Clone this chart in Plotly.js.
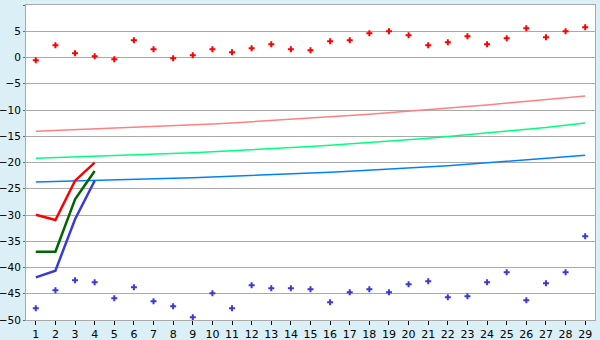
<!DOCTYPE html>
<html>
<head>
<meta charset="utf-8">
<script src="https://cdn.plot.ly/plotly-3.0.1.min.js"></script>
<style>html,body{margin:0;padding:0;background:#daeff6;}#chart{width:600px;height:340px;}</style>
</head>
<body>
<div id="chart"></div>
<script>
const days = [1,2,3,4,5,6,7,8,9,10,11,12,13,14,15,16,17,18,19,20,21,22,23,24,25,26,27,28,29];
const upperPoints = [-0.53,2.32,0.8,0.22,-0.35,3.27,1.56,-0.16,0.42,1.56,0.99,1.75,2.51,1.56,1.37,3.09,3.27,4.61,4.99,4.23,2.32,2.9,4.04,2.51,3.66,5.56,3.85,4.99,5.75];
const lowerPoints = [-47.78,-44.35,-42.44,-42.82,-45.87,-43.77,-46.44,-47.39,-49.49,-44.92,-47.78,-43.39,-43.96,-43.96,-44.15,-46.63,-44.72,-44.15,-44.72,-43.2,-42.63,-45.68,-45.49,-42.82,-40.91,-46.25,-43.01,-40.91,-34.06];
const pinkTrend = [-14.06,-13.92,-13.78,-13.63,-13.49,-13.35,-13.2,-13.03,-12.85,-12.66,-12.46,-12.25,-12.03,-11.8,-11.57,-11.32,-11.06,-10.8,-10.53,-10.25,-9.96,-9.66,-9.35,-9.03,-8.71,-8.37,-8.03,-7.68,-7.33];
const greenTrend = [-19.2,-19.08,-18.96,-18.84,-18.71,-18.58,-18.44,-18.29,-18.13,-17.96,-17.78,-17.59,-17.39,-17.18,-16.96,-16.72,-16.47,-16.21,-15.94,-15.66,-15.36,-15.05,-14.73,-14.4,-14.06,-13.71,-13.34,-12.92,-12.48];
const blueTrend = [-23.7,-23.62,-23.53,-23.44,-23.35,-23.25,-23.14,-23.02,-22.9,-22.77,-22.63,-22.49,-22.34,-22.18,-22.02,-21.85,-21.67,-21.48,-21.29,-21.09,-20.86,-20.6,-20.33,-20.05,-19.77,-19.49,-19.2,-18.92,-18.63];
const shortDays = [1,2,3,4];
const redShort = [-29.94,-30.95,-23.46,-20.03];
const greenShort = [-37,-37,-27.0,-21.62];
const blueShort = [-41.87,-40.6,-30.8,-23.47];
const yTicks = [-50,-45,-40,-35,-30,-25,-20,-15,-10,-5,0,5,10];

const traces = [
  {x: days, y: pinkTrend, mode: 'lines', line: {color: '#ff8080', width: 1.5}},
  {x: days, y: greenTrend, mode: 'lines', line: {color: '#00ff80', width: 1.5}},
  {x: days, y: blueTrend, mode: 'lines', line: {color: '#0080ff', width: 1.5}},
  {x: shortDays, y: redShort, mode: 'lines', line: {color: '#ff0000', width: 2.5}},
  {x: shortDays, y: greenShort, mode: 'lines', line: {color: '#006600', width: 2.5}},
  {x: shortDays, y: blueShort, mode: 'lines', line: {color: '#3a3ad4', width: 2.5}},
  {x: days, y: upperPoints, mode: 'markers', marker: {symbol: 'cross', size: 5, color: '#ff0000'}},
  {x: days, y: lowerPoints, mode: 'markers', marker: {symbol: 'cross', size: 5, color: '#3a3ad4'}}
];

const layout = {
  width: 600, height: 340,
  margin: {l: 26, r: 5, t: 5, b: 20, pad: 0},
  paper_bgcolor: '#daeff6',
  plot_bgcolor: '#ffffff',
  showlegend: false,
  font: {family: 'DejaVu Sans, sans-serif', size: 11, color: '#000000'},
  xaxis: {
    range: [0.5, 29.5], tickmode: 'array', tickvals: days, ticktext: days.map(String),
    showgrid: false, zeroline: false, showline: true, linecolor: '#aaaaaa', linewidth: 1, mirror: true,
    ticks: 'outside', ticklen: 4, tickcolor: '#000000', tickfont: {size: 11}
  },
  yaxis: {
    range: [-50, 10], tickmode: 'array', tickvals: yTicks,
    showgrid: true, gridcolor: '#aaaaaa', gridwidth: 1, zeroline: false,
    showline: true, linecolor: '#aaaaaa', linewidth: 1, mirror: true,
    ticks: 'outside', ticklen: 2, tickcolor: '#666666', tickfont: {size: 10.5}
  }
};

Plotly.newPlot('chart', traces, layout, {staticPlot: true, displayModeBar: false});
</script>
</body>
</html>
